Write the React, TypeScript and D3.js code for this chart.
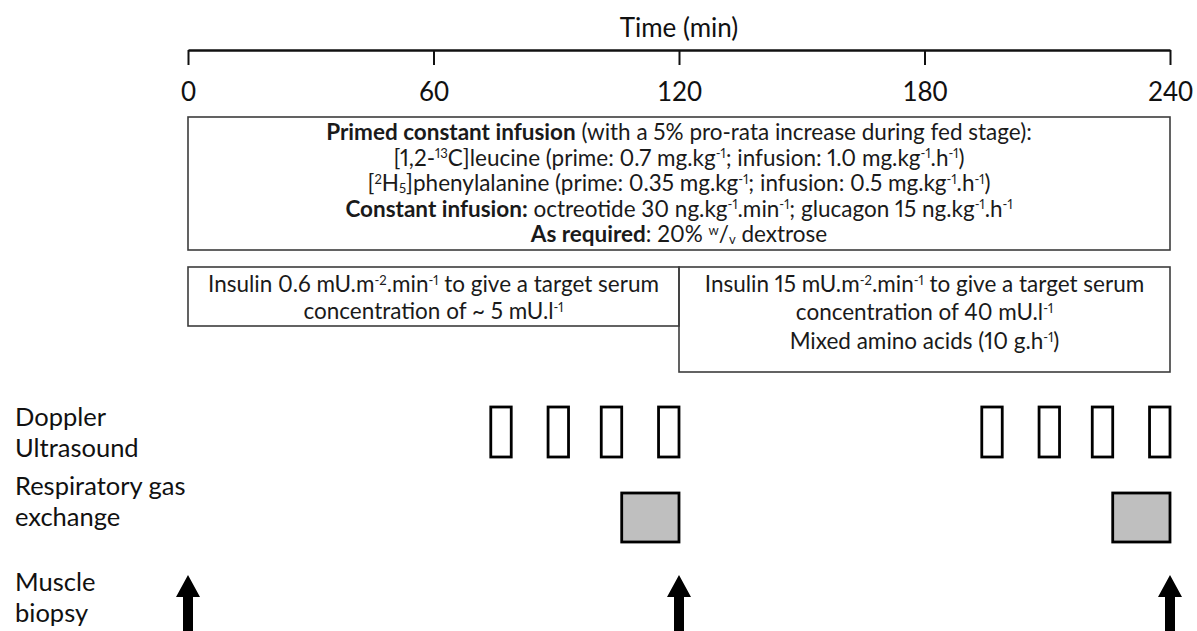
import { useEffect, useRef } from "react";
import * as d3 from "d3";

// Study timeline (minutes)
const TIME_TICKS = [0, 60, 120, 180, 240];
const INFUSION_SPAN = [0, 240];
const FASTED_SPAN = [0, 120];
const FED_SPAN = [120, 240];
const DOPPLER_STARTS = [74, 88, 101, 115, 194, 208, 221, 235];
const DOPPLER_LENGTH = 5;
const GAS_WINDOWS = [
  [106, 120],
  [226, 240],
];
const BIOPSY_TIMES = [0, 120, 240];

const ROW_LABELS = [
  ["Doppler", "Ultrasound"],
  ["Respiratory gas", "exchange"],
  ["Muscle", "biopsy"],
];

// ** = bold, ^{} = superscript, _{} = subscript
const INFUSION_LINES = [
  "**Primed constant infusion** (with a 5% pro-rata increase during fed stage):",
  "[1,2-^{13}C]leucine (prime: 0.7 mg.kg^{-1}; infusion: 1.0 mg.kg^{-1}.h^{-1})",
  "[^{2}H_{5}]phenylalanine (prime: 0.35 mg.kg^{-1}; infusion: 0.5 mg.kg^{-1}.h^{-1})",
  "**Constant infusion:** octreotide 30 ng.kg^{-1}.min^{-1}; glucagon 15 ng.kg^{-1}.h^{-1}",
  "**As required**: 20% ^{w}/_{v} dextrose",
];
const FASTED_LINES = [
  "Insulin 0.6 mU.m^{-2}.min^{-1} to give a target serum",
  "concentration of ~ 5 mU.l^{-1}",
];
const FED_LINES = [
  "Insulin 15 mU.m^{-2}.min^{-1} to give a target serum",
  "concentration of 40 mU.l^{-1}",
  "Mixed amino acids (10 g.h^{-1})",
];

const W = 1197;
const H = 631;
const FONT = "Lato, 'Open Sans', sans-serif";
const BIG = 25.5;
const SMALL = 22.5;

function richText(
  sel: d3.Selection<SVGTextElement, unknown, null, undefined>,
  str: string,
  fs: number
) {
  const parts = str.split(/(\*\*.+?\*\*|\^\{.*?\}|_\{.*?\})/).filter(Boolean);
  let shift = 0;
  parts.forEach((p) => {
    let txt = p;
    let size = fs;
    let target = 0;
    let bold = false;
    if (p.startsWith("**")) {
      txt = p.slice(2, -2);
      bold = true;
    } else if (p.startsWith("^{")) {
      txt = p.slice(2, -1);
      size = fs * 0.58;
      target = -fs * 0.32;
    } else if (p.startsWith("_{")) {
      txt = p.slice(2, -1);
      size = fs * 0.58;
      target = fs * 0.1;
    }
    const t = sel
      .append("tspan")
      .attr("dy", target - shift)
      .attr("font-size", size)
      .text(txt);
    if (bold) t.attr("font-weight", "bold");
    shift = target;
  });
}

export default function App() {
  const svgRef = useRef<SVGSVGElement>(null);

  useEffect(() => {
    if (!svgRef.current) return;
    const svg = d3.select(svgRef.current);
    svg.selectAll("*").remove();

    const x = d3.scaleLinear().domain([0, 240]).range([188, 1170]);

    // Title + time axis
    svg
      .append("text")
      .attr("x", x(120))
      .attr("y", 37)
      .attr("text-anchor", "middle")
      .attr("font-size", 26)
      .attr("fill", "#111")
      .text("Time (min)");

    const axis = svg
      .append("g")
      .attr("transform", "translate(0,50)")
      .call(
        d3
          .axisBottom(x)
          .tickValues(TIME_TICKS)
          .tickSize(15)
          .tickSizeOuter(0)
          .tickPadding(18)
          .tickFormat((d) => `${d}`)
      );
    axis.selectAll(".domain").attr("stroke", "#111").attr("stroke-width", 2.5);
    axis.selectAll(".tick line").attr("stroke", "#111").attr("stroke-width", 2);
    axis
      .selectAll(".tick text")
      .attr("fill", "#111")
      .attr("font-size", 26)
      .attr("font-family", FONT);

    // Text boxes
    const textBox = (
      span: number[],
      y0: number,
      y1: number,
      lines: string[],
      baselines: number[]
    ) => {
      svg
        .append("rect")
        .attr("x", x(span[0]))
        .attr("y", y0)
        .attr("width", x(span[1]) - x(span[0]))
        .attr("height", y1 - y0)
        .attr("fill", "none")
        .attr("stroke", "#3c3c3c")
        .attr("stroke-width", 1.6);
      lines.forEach((line, i) => {
        const t = svg
          .append("text")
          .attr("x", (x(span[0]) + x(span[1])) / 2)
          .attr("y", baselines[i])
          .attr("text-anchor", "middle")
          .attr("font-size", SMALL)
          .attr("fill", "#1a1a1a")
          .style("white-space", "pre")
          .style("font-variant-numeric", "proportional-nums");
        richText(t, line, SMALL);
      });
    };

    textBox(INFUSION_SPAN, 117, 250, INFUSION_LINES, [140, 165.5, 191, 216.5, 242]);
    textBox(FASTED_SPAN, 267, 326, FASTED_LINES, [292, 319]);
    textBox(FED_SPAN, 267, 372, FED_LINES, [292, 320, 349]);

    // Row labels
    const labelBase = [426, 495, 591];
    ROW_LABELS.forEach((lines, r) => {
      lines.forEach((l, i) => {
        svg
          .append("text")
          .attr("x", 15)
          .attr("y", labelBase[r] + i * 31)
          .attr("font-size", BIG)
          .attr("fill", "#111")
          .text(l);
      });
    });

    // Doppler ultrasound
    svg
      .append("g")
      .selectAll("rect")
      .data(DOPPLER_STARTS)
      .join("rect")
      .attr("x", (d) => x(d))
      .attr("y", 407)
      .attr("width", (d) => x(d + DOPPLER_LENGTH) - x(d))
      .attr("height", 50)
      .attr("fill", "#fff")
      .attr("stroke", "#000")
      .attr("stroke-width", 2.8);

    // Respiratory gas exchange
    svg
      .append("g")
      .selectAll("rect")
      .data(GAS_WINDOWS)
      .join("rect")
      .attr("x", (d) => x(d[0]))
      .attr("y", 493)
      .attr("width", (d) => x(d[1]) - x(d[0]))
      .attr("height", 49)
      .attr("fill", "#bfbfbf")
      .attr("stroke", "#000")
      .attr("stroke-width", 2.8);

    // Muscle biopsy arrows
    const arrow = (cx: number) => {
      const tip = 575;
      const base = 597;
      const bottom = H + 2;
      return `M${cx},${tip} L${cx + 12},${base} L${cx + 5},${base} L${cx + 5},${bottom} L${cx - 5},${bottom} L${cx - 5},${base} L${cx - 12},${base} Z`;
    };
    svg
      .append("g")
      .selectAll("path")
      .data(BIOPSY_TIMES)
      .join("path")
      .attr("d", (d) => arrow(x(d)))
      .attr("fill", "#000");
  }, []);

  return (
    <svg
      ref={svgRef}
      width={W}
      height={H}
      style={{ position: "absolute", left: 0, top: 0, background: "#fff" }}
      fontFamily={FONT}
    />
  );
}
